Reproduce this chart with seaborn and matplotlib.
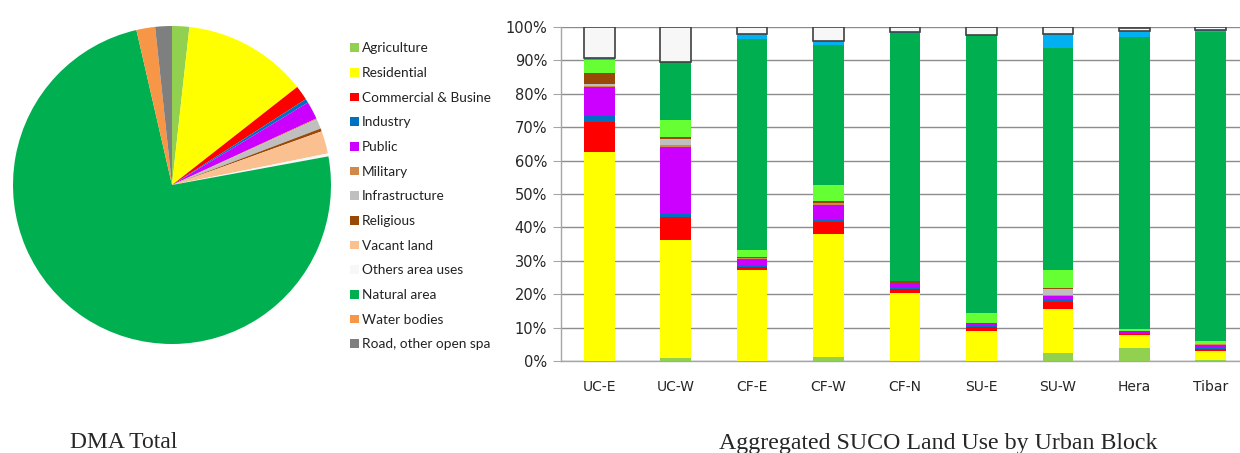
import numpy as np
import pandas as pd
import matplotlib
matplotlib.use('Agg')
import matplotlib.pyplot as plt
from matplotlib.patches import Patch
import seaborn as sns

# ============================================================
# DATA
# ============================================================
pie_labels = ["Agriculture", "Residential", "Commercial & Busine", "Industry",
              "Public", "Military", "Infrastructure", "Religious", "Vacant land",
              "Others area uses", "Natural area", "Water bodies", "Road, other open spa"]
pie_values = [1.75, 12.7, 1.5, 0.4, 1.8, 0.1, 1.0, 0.3, 2.3, 0.3, 74.4, 1.9, 1.7]
pie_colors = ["#92D050", "#FFFF00", "#FF0000", "#0070C0", "#CC00FF", "#D2884A",
              "#BFBFBF", "#984807", "#FAC090", "#F7F7F7", "#00B050", "#F79646", "#7F7F7F"]

blocks = ["UC-E", "UC-W", "CF-E", "CF-W", "CF-N", "SU-E", "SU-W", "Hera", "Tibar"]

agriculture    = [0.0, 0.8, 0.0, 1.2, 0.0, 0.0, 2.5, 4.0, 0.3]
residential    = [62.6, 35.4, 27.2, 36.9, 20.4, 9.0, 13.2, 3.8, 2.7]
commercial     = [9.1, 7.0, 0.9, 3.6, 1.3, 1.3, 2.1, 0.3, 0.7]
industry       = [1.8, 0.7, 0.2, 0.4, 0.3, 0.4, 0.7, 0.2, 0.3]
public         = [8.5, 20.2, 2.2, 4.6, 1.3, 0.6, 1.1, 0.7, 0.8]
military       = [0.4, 0.7, 0.2, 0.6, 0.0, 0.0, 0.3, 0.0, 0.2]
infrastructure = [0.5, 1.8, 0.0, 0.0, 0.0, 0.0, 1.7, 0.0, 0.0]
religious      = [3.4, 0.5, 0.3, 0.5, 0.7, 0.0, 0.3, 0.0, 0.0]
vacant_green   = [3.8, 5.0, 2.2, 4.8, 0.0, 3.0, 5.2, 0.5, 1.1]
natural        = [0.0, 17.4, 63.3, 42.1, 74.2, 83.3, 66.5, 87.4, 92.3]
water          = [0.7, 0.0, 1.3, 1.1, 0.4, 0.0, 4.2, 1.9, 0.6]
others         = [9.2, 10.5, 2.2, 4.2, 1.4, 2.4, 2.2, 1.0, 1.0]

bar_layers = [
    ("Agriculture", agriculture, "#92D050"),
    ("Residential", residential, "#FFFF00"),
    ("Commercial", commercial, "#FF0000"),
    ("Industry", industry, "#0070C0"),
    ("Public", public, "#CC00FF"),
    ("Military", military, "#D2884A"),
    ("Infrastructure", infrastructure, "#BFBFBF"),
    ("Religious", religious, "#984807"),
    ("Vacant land", vacant_green, "#66FF33"),
    ("Natural area", natural, "#00B050"),
    ("Water bodies", water, "#00B0F0"),
    ("Others", others, "#F7F7F7"),
]

# ============================================================
# FIGURE
# ============================================================
sns.set_style("white")
plt.rcParams['font.family'] = ['DejaVu Sans']

fig = plt.figure(figsize=(12.4, 4.53), dpi=100)
W, H = 1240, 453

# ---- pie ----
ax_pie = fig.add_axes([13 / W, (H - 344) / H, 318 / W, 318 / H])
ax_pie.pie(pie_values, colors=pie_colors, startangle=90, counterclock=False,
           radius=1.0, wedgeprops=dict(linewidth=0))
ax_pie.set_xlim(-1, 1)
ax_pie.set_ylim(-1, 1)
ax_pie.set_aspect("equal")

handles = [Patch(facecolor=c, edgecolor="none") for c in pie_colors]
fig.legend(handles, pie_labels, loc="upper left",
           bbox_to_anchor=(345 / W, 1 - 37 / H), frameon=False,
           prop={"family": "Lato", "size": 9.8}, labelcolor="#222222",
           handlelength=0.6, handleheight=0.6, handletextpad=0.25,
           labelspacing=0.93, borderaxespad=0)

# ---- stacked bars ----
ax = fig.add_axes([561 / W, (H - 361) / H, 688 / W, 334 / H])
df = pd.DataFrame({"block": blocks})
bottom = np.zeros(len(blocks))
for name, vals, color in bar_layers:
    df[name] = vals
    edge = "#404040" if name == "Others" else "none"
    lw = 1.2 if name == "Others" else 0
    sns.barplot(data=df, x="block", y=name, color=color, bottom=bottom,
                width=0.4, edgecolor=edge, linewidth=lw, saturation=1,
                ax=ax, zorder=3)
    bottom = bottom + np.array(vals)

ax.set_xlim(-0.5, len(blocks) - 0.5)
ax.set_ylim(0, 100)
ax.set_yticks(np.arange(0, 101, 10))
ax.set_yticklabels([f"{v}%" for v in range(0, 101, 10)])
ax.set_xlabel("")
ax.set_ylabel("")
ax.grid(axis="y", color="#8C8C8C", linewidth=1, zorder=0)
ax.grid(axis="x", visible=False)
ax.set_axisbelow(True)
for s in ["top", "right"]:
    ax.spines[s].set_visible(False)
for s in ["left", "bottom"]:
    ax.spines[s].set_color("#A6A6A6")
    ax.spines[s].set_linewidth(1)
ax.set_xticks(np.arange(-0.5, len(blocks)), minor=True)
ax.tick_params(axis="x", which="major", length=0, pad=14, labelsize=10, labelcolor="#262626")
ax.tick_params(axis="x", which="minor", length=5, color="#A6A6A6", direction="out")
ax.tick_params(axis="y", length=6, color="#A6A6A6", pad=4, labelsize=10.5, labelcolor="#262626",
               left=True)

# ---- captions ----
fig.text(124 / W, 1 - 443 / H, "DMA Total", ha="center", va="center",
         family="Liberation Serif", fontsize=17)
fig.text(938 / W, 1 - 443 / H, "Aggregated SUCO Land Use by Urban Block", ha="center",
         va="center", family="Liberation Serif", fontsize=17.2)

fig.savefig("out.png", dpi=100)
